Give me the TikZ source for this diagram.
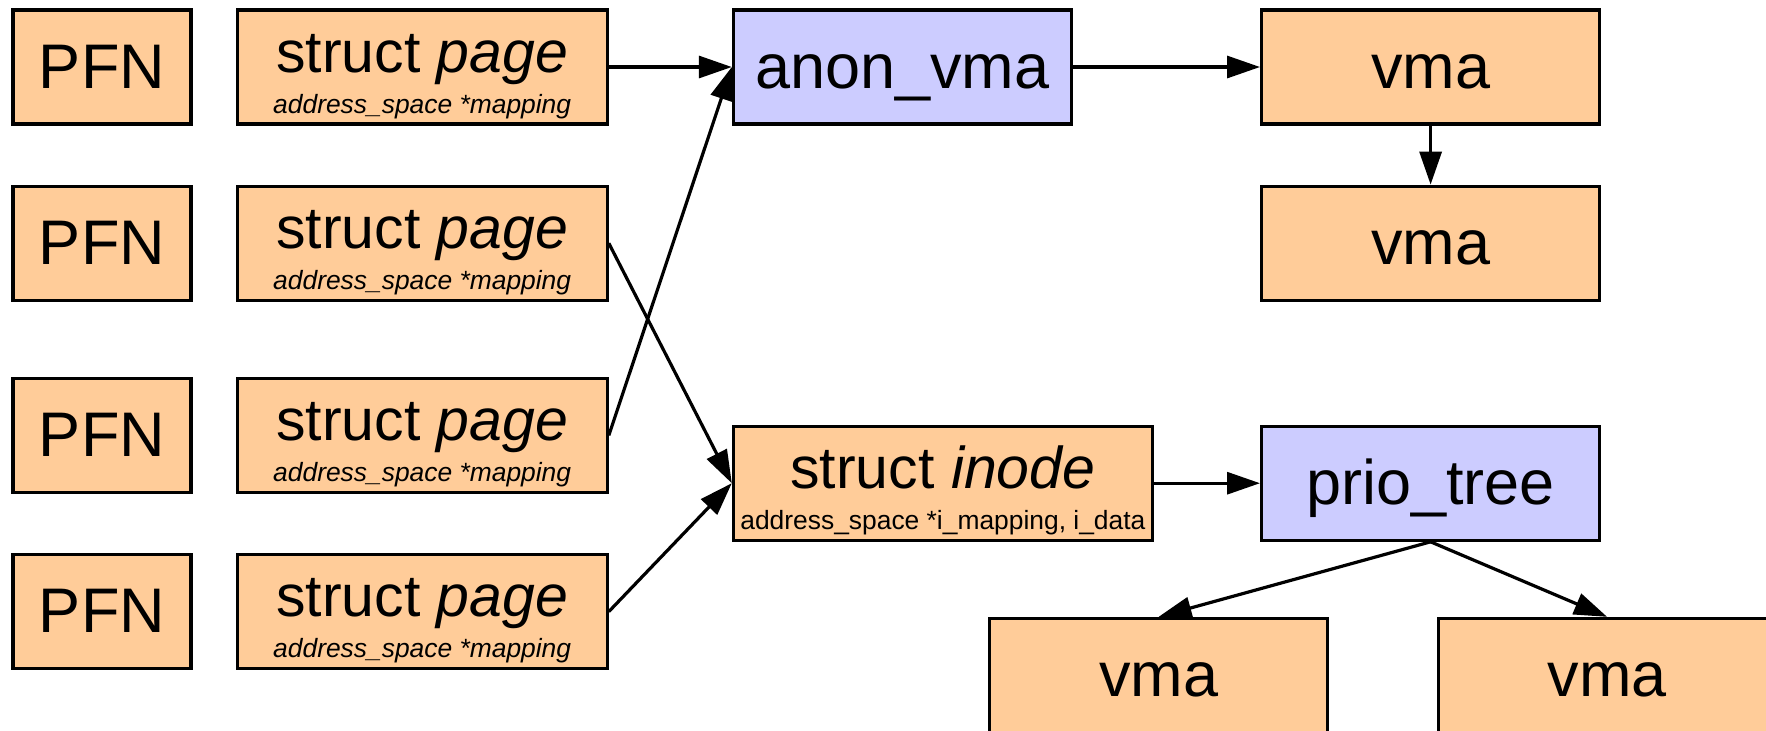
\documentclass[tikz,border=0pt]{standalone}
\usepackage{fontspec}
\setmainfont{Liberation Sans}
\usetikzlibrary{positioning,calc,arrows.meta}
\definecolor{pageorange}{HTML}{FFCC99}
\definecolor{treeblue}{HTML}{CCCCFF}
\newcommand\subline[1]{{\fontsize{13.2}{15}\selectfont #1}}

\begin{document}
\begin{tikzpicture}[
    box/.style = {draw, line width=1.6pt, fill=pageorange, minimum height=57pt,
      inner sep=0pt, font=\fontsize{31.5}{36}\selectfont,
      text height=22.6pt, text depth=1.6pt},
    pfnbox/.style = {box, minimum width=89pt},
    vmabox/.style = {box, minimum width=169pt},
    bluebox/.style = {vmabox, fill=treeblue},
    structbox/.style = {box, align=center, font=\fontsize{29.5}{20.5}\selectfont,
      text height=48pt, text depth=2pt},
    arr/.style = {line width=1.6pt, -{Triangle[length=16.5pt, width=11pt]}}
  ]
  \useasboundingbox (0,0) rectangle (883pt,-365pt);
  \clip (0,0) rectangle (883pt,-365pt);

  \node[pfnbox] (pfn1) at (51pt,-33.5pt) {PFN};
  \node[pfnbox, below = 29.5pt of pfn1] (pfn2) {PFN};
  \node[pfnbox, below = 37.5pt of pfn2] (pfn3) {PFN};
  \node[pfnbox, below = 29.5pt of pfn3] (pfn4) {PFN};

  \node[structbox, minimum width=185pt, right = 21.5pt of pfn1] (pg1)
    {struct \textit{page}\\\subline{\textit{address\_space *mapping}}};
  \node[structbox, minimum width=185pt, right = 21.5pt of pfn2] (pg2)
    {struct \textit{page}\\\subline{\textit{address\_space *mapping}}};
  \node[structbox, minimum width=185pt, right = 21.5pt of pfn3] (pg3)
    {struct \textit{page}\\\subline{\textit{address\_space *mapping}}};
  \node[structbox, minimum width=185pt, right = 21.5pt of pfn4] (pg4)
    {struct \textit{page}\\\subline{\textit{address\_space *mapping}}};

  \node[bluebox, right = 61.5pt of pg1] (anon) {anon\_vma};
  \node[vmabox, right = 93.5pt of anon] (vma1) {vma};
  \node[vmabox, below = 29.5pt of vma1] (vma2) {vma};

  \node[structbox, minimum width=209.5pt, anchor=north west] (inode)
    at ($(anon.south west) + (0,-149.5pt)$)
    {struct \textit{inode}\\\subline{address\_space *i\_mapping, i\_data}};
  \node[bluebox, right = 53pt of inode] (prio) {prio\_tree};
  \node[vmabox, anchor=north] (vma3) at ($(prio.south) + (-136pt,-37.5pt)$) {vma};
  \node[vmabox, anchor=north] (vma4) at ($(prio.south) + (88.25pt,-37.5pt)$) {vma};

  \draw[arr] (pg1.east) -- (anon.west);
  \draw[arr] (anon.east) -- (vma1.west);
  \draw[arr] (vma1.south) -- (vma2.north);
  \draw[arr] (pg2.east) -- (inode.west);
  \draw[arr] (pg3.east) -- (anon.west);
  \draw[arr] (pg4.east) -- (inode.west);
  \draw[arr] (inode.east) -- (prio.west);
  \draw[arr] (prio.south) -- (vma3.north);
  \draw[arr] (prio.south) -- (vma4.north);
\end{tikzpicture}
\end{document}
